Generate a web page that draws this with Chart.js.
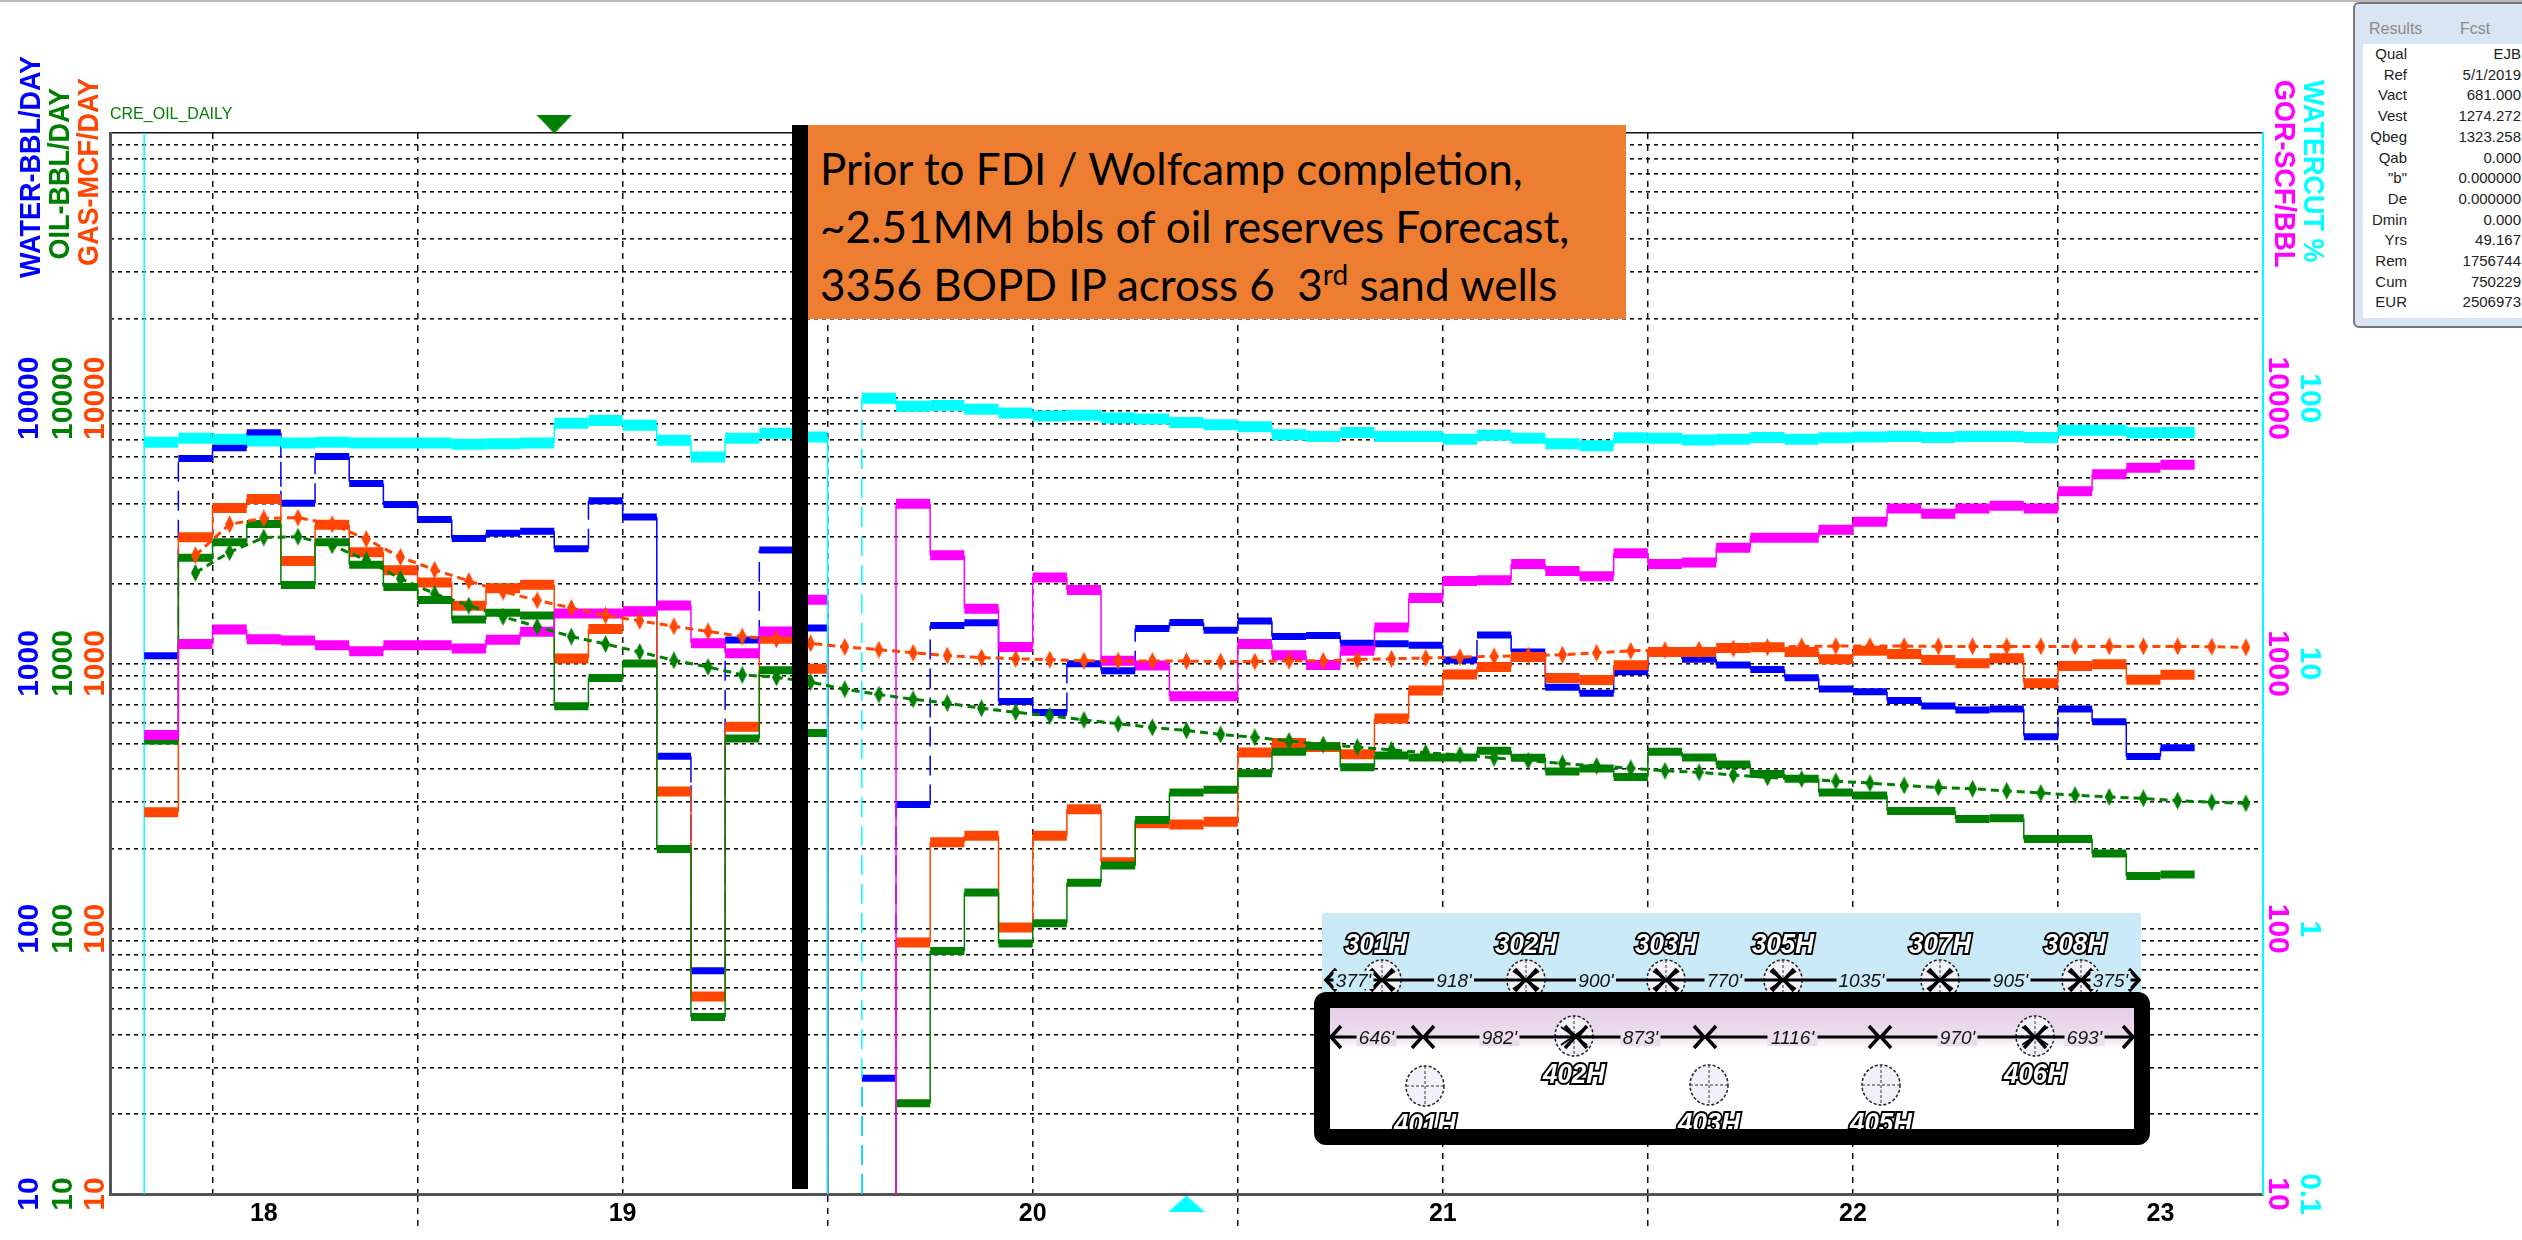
<!DOCTYPE html>
<html>
<head>
<meta charset="utf-8">
<title>CRE_OIL_DAILY</title>
<script src="https://cdn.jsdelivr.net/npm/chart.js@4/dist/chart.umd.js"></script>
<style>
html, body { margin: 0; padding: 0; background: #fff; }
body { width: 2522px; height: 1240px; overflow: hidden; position: relative; font-family: "Liberation Sans", Arial, sans-serif; }
canvas { display: block; position: absolute; left: 0; top: 0; }
.abs { position: absolute; }
.topline { left: 0; top: 0; width: 2522px; height: 2px; background: #bbb; }
.ytitle { font-weight: bold; font-size: 27px; line-height: 24px; white-space: nowrap; writing-mode: vertical-rl; }
.left { transform: rotate(180deg) scaleX(1.12); }
.right { transform: scaleX(1.12); }
.bar { left: 792px; top: 125px; width: 16px; height: 1064px; background: #000; }
.note { left: 808px; top: 125px; width: 818px; height: 194px; background: #ed7d31; color: #000; font-family: Lato, sans-serif; font-size: 44px; line-height: 58px; }
.note div { position: absolute; left: 12px; white-space: nowrap; }
.note sup { font-size: 28px; line-height: 0; }
.cre { left: 110px; top: 105px; color: #008000; font-size: 16px; }
.panel { left: 2353px; top: 2px; width: 175px; height: 326px; background: #d9e5f2; border: 2px solid #777; border-radius: 6px; box-sizing: border-box; }
.panel .head { position: absolute; top: 16px; color: #8a8a8a; font-size: 16px; }
.panel .inner { position: absolute; left: 8px; top: 40px; width: 170px; height: 274px; background: #fff; }
.row { position: absolute; font-size: 15px; color: #222; white-space: nowrap; }
svg { position: absolute; left: 0; top: 0; }
</style>
</head>
<body>
<canvas id="chart" width="2522" height="1240"></canvas>
<div class="abs topline"></div>
<div class="abs ytitle left" style="left:18px;top:56px;color:#0000ff">WATER-BBL/DAY</div>
<div class="abs ytitle left" style="left:47px;top:88px;color:#008000">OIL-BBL/DAY</div>
<div class="abs ytitle left" style="left:76px;top:78px;color:#ff4500">GAS-MCF/DAY</div>
<div class="abs ytitle right" style="left:2273px;top:80px;color:#ff00ff">GOR-SCF/BBL</div>
<div class="abs ytitle right" style="left:2302px;top:80px;color:#00ffff">WATERCUT %</div>
<div class="abs cre">CRE_OIL_DAILY</div>
<div class="abs bar"></div>
<div class="abs note">
  <div style="top:14px">Prior to FDI / Wolfcamp completion,</div>
  <div style="top:72px">~2.51MM bbls of oil reserves Forecast,</div>
  <div style="top:130px">3356 BOPD IP across 6&nbsp; 3<sup>rd</sup> sand wells</div>
</div>
<div class="abs panel" id="panel">
  <div class="head" style="left:14px">Results</div>
  <div class="head" style="left:105px">Fcst</div>
  <div class="inner"></div>
</div>
<svg id="wells" width="2522" height="1240"></svg>

<script>
// months are counted from Jan 2018, so month 12 = Jan 2019
const firstMonth = 4;
const forecastFirstMonth = 5.5;

const water = [1070, 5930, 6500, 7410, 4020, 6030, 4770, 3980, 3490, 2960, 3100, 3150, 2710, 4110, 3570, 447, 69.5, 1225, 2680, 1360,
  null, 27.3, 294, 1391, 1425, 719, 653, 997, 940, 1354, 1429, 1336, 1445, 1264, 1276, 1192, 1188, 1172, 1031, 1281,
  1105, 813, 773, 931, 1112, 1038, 986, 950, 883, 802, 783, 726, 692, 668, 673, 529, 673, 603, 446, 481];
const oil = [513, 2506, 2865, 3357, 1977, 2865, 2355, 1941, 1734, 1465, 1553, 1517, 690, 881, 1000, 200, 46.5, 521, 944, 547,
  null, null, 22, 82.4, 137, 88, 105, 149, 173, 257, 326, 334, 386, 465, 488, 406, 450, 442, 442, 469,
  441, 392, 402, 373, 465, 442, 416, 383, 368, 326, 318, 278, 278, 259, 261, 218, 218, 192, 158, 160];
const gas = [275, 2989, 3860, 4167, 2432, 3336, 2624, 2246, 2018, 1651, 1923, 1982, 1045, 1349, 1570, 329, 55.5, 577, 1240, 955,
  null, null, 88.7, 212, 224, 101, 224, 282, 178, 250, 247, 253, 462, 502, 484, 455, 620, 791, 908, 970,
  1057, 881, 866, 984, 1105, 1105, 1144, 1151, 1105, 1038, 1117, 1086, 1031, 1003, 1046, 842, 979, 993, 868, 906];
const gor = [538, 1184, 1344, 1233, 1221, 1172, 1113, 1172, 1172, 1140, 1230, 1318, 1542, 1542, 1574, 1653, 1191, 1094, 1321, 1740,
  null, null, 4000, 2559, 1608, 1155, 2109, 1891, 1024, 983, 752, 752, 1184, 1075, 986, 1116, 1368, 1766, 2047, 2061,
  2372, 2230, 2132, 2605, 2372, 2404, 2730, 2977, 2977, 3192, 3420, 3840, 3672, 3840, 3935, 3840, 4457, 5165, 5471, 5610];
const watercut = [68.2, 70.6, 70.1, 69, 67.8, 68.2, 67.8, 67.8, 67.8, 67.1, 67.3, 67.8, 80.5, 82.4, 79.1, 69.5, 60.1, 70.6, 73.8, 71.4,
  null, 100, 93.3, 94, 90.8, 88, 85.7, 86.3, 84.2, 83.6, 81, 79.4, 78, 72.8, 71.8, 74.3, 71.8, 71.8, 70.1, 72.6,
  70.6, 67.3, 66.2, 70.9, 70.6, 69.6, 70.1, 71.1, 70.1, 70.9, 71.4, 71.8, 71.1, 71.8, 71.8, 71.1, 75.7, 75.7, 74.1, 74.3];

const gasForecast = [2559, 3351, 3524, 3548, 3351, 2944, 2518, 2256, 2047, 1866, 1730, 1620, 1517, 1449, 1381, 1321, 1264, 1234, 1191,
  1155, 1128, 1097, 1071, 1053, 1042, 1035, 1024, 1024, 1021, 1021, 1017, 1017, 1024, 1024, 1035, 1042, 1049, 1057, 1064, 1071, 1079, 1097, 1116, 1124,
  1128, 1139, 1151, 1160, 1163, 1163, 1163, 1160, 1160, 1160, 1160, 1160, 1160, 1160, 1160, 1157, 1151];
const oilForecast = [2198, 2630, 2985, 3006, 2788, 2455, 2089, 1833, 1653, 1500, 1377, 1264, 1184, 1105, 1028, 970, 906, 887, 851,
  800, 764, 733, 709, 678, 655, 635, 613, 593, 574, 559, 540, 527, 511, 495, 484, 472, 461, 452, 441, 430, 420, 411, 403, 394,
  389, 380, 372, 367, 360, 354, 347, 341, 337, 331, 325, 319, 314, 310, 304, 300, 297];

const gridTicks = [10, 20, 30, 40, 50, 60, 70, 80, 90, 100, 200, 300, 400, 500, 600, 700, 800, 900, 1000,
  2000, 3000, 4000, 5000, 6000, 7000, 8000, 9000, 10000, 20000, 30000, 40000, 50000, 60000, 70000, 80000, 90000, 100000];
const rateLabels = [10, 100, 1000, 10000];
const gorLabels = [10, 100, 1000, 10000];
const watercutLabels = [0.1, 1, 10, 100];

const monthTicks = [6, 7.5, 12, 18, 24, 30, 36, 42, 48, 54, 60, 63, 66];
const yearBoundaries = [12, 24, 36, 48, 60];
const labelMonths = [7.5, 18, 30, 42, 54, 63];
const yearLabels = ["18", "19", "20", "21", "22", "23"];
const noGridMonths = [7.5, 63];

const wellStartMonth = [4];
const refMonth = [16];
const cursorMonth = [34.5];

const resultNames = ["Qual", "Ref", "Vact", "Vest", "Qbeg", "Qab", "\"b\"", "De", "Dmin", "Yrs", "Rem", "Cum", "EUR"];
const resultValues = ["EJB", "5/1/2019", "681.000", "1274.272", "1323.258", "0.000", "0.000000", "0.000000", "0.000", "49.167", "1756744", "750229", "2506973"];

const BLUE = "#0000ff", GREEN = "#008000", ORANGE = "#ff4500", MAGENTA = "#ff00ff", CYAN = "#00ffff";

function stepPoints(values, floor) {
    let pts = [];
    let prev = null;
    values.forEach((v, i) => {
        let m = firstMonth + i;
        if (v === null) {
            if (prev !== null) pts.push({ x: m, y: floor }, { x: m, y: null });
        } else {
            if (prev === null && i > 0) pts.push({ x: m, y: floor });
            pts.push({ x: m, y: v }, { x: m + 1, y: v });
        }
        prev = v;
    });
    return pts;
}

function stepSet(label, values, color, axis, floor, thick, order, dashedDrops) {
    return {
        label: label,
        data: stepPoints(values, floor),
        yAxisID: axis,
        borderColor: color,
        borderWidth: 1.5,
        pointRadius: 0,
        order: order,
        segment: {
            borderWidth: c => c.p0.parsed.y === c.p1.parsed.y ? thick : 1.5,
            borderDash: c => (dashedDrops && c.p0.parsed.y !== c.p1.parsed.y) ? [20, 9] : undefined
        }
    };
}

function diamond(color) {
    let c = document.createElement("canvas");
    c.width = 9; c.height = 18;
    let g = c.getContext("2d");
    g.fillStyle = color;
    g.beginPath(); g.moveTo(4.5, 0); g.lineTo(9, 9); g.lineTo(4.5, 18); g.lineTo(0, 9); g.closePath(); g.fill();
    return c;
}

function triangle(color, up, w, h) {
    let c = document.createElement("canvas");
    c.width = w; c.height = h;
    let g = c.getContext("2d");
    g.fillStyle = color;
    g.beginPath();
    if (up) { g.moveTo(0, h); g.lineTo(w, h); g.lineTo(w / 2, 0); }
    else { g.moveTo(0, 0); g.lineTo(w, 0); g.lineTo(w / 2, h); }
    g.closePath(); g.fill();
    return c;
}

function forecastSet(label, values, color, axis) {
    return {
        label: label,
        data: values.map((v, i) => ({ x: forecastFirstMonth + i, y: v })),
        yAxisID: axis,
        borderColor: color,
        backgroundColor: color,
        borderWidth: 3,
        borderDash: [8, 5],
        pointStyle: diamond(color),
        pointRadius: 8,
        order: 1
    };
}

// mirror stops the labels being clipped to the narrow axis box, padding then sets where they sit
function sideAxis(position, labels, color, width, pad, grid) {
    return {
        type: "logarithmic",
        position: position,
        min: labels === watercutLabels ? 0.1 : 10,
        max: labels === watercutLabels ? 1000 : 100000,
        afterBuildTicks: a => { a.ticks = (grid ? gridTicks : labels).map(v => ({ value: v })); },
        afterFit: s => { s.width = width; s.paddingTop = 0; s.paddingBottom = 0; },
        ticks: {
            autoSkip: false,
            mirror: true,
            color: color,
            font: { family: "'Liberation Sans Narrow', 'Liberation Sans'", size: 30, weight: "bold" },
            padding: pad,
            crossAlign: "center",
            minRotation: position === "left" ? 90 : -90,
            maxRotation: position === "left" ? 90 : -90,
            callback: v => labels.includes(v) ? String(v) : ""
        },
        grid: grid ? {
            drawTicks: false,
            color: "#111",
            lineWidth: 1.6
        } : { drawTicks: false, drawOnChartArea: false },
        border: grid ? { display: false, dash: c => (c.tick && c.tick.value === 100000) ? [] : [4, 4] } : { display: false }
    };
}

// left axes stack from the outside in, so water has to come first
const scales = {
    x: {
        type: "linear",
        min: 3,
        max: 66,
        afterBuildTicks: a => { a.ticks = monthTicks.map(v => ({ value: v })); },
        afterFit: s => { s.height = 46; s.paddingLeft = 0; s.paddingRight = 0; },
        ticks: {
            autoSkip: false,
            maxRotation: 0,
            color: "#000",
            padding: -31,
            font: { family: "Liberation Sans", size: 25, weight: "bold" },
            callback: v => labelMonths.includes(v) ? yearLabels[labelMonths.indexOf(v)] : ""
        },
        grid: {
            color: c => noGridMonths.includes(c.tick.value) ? "rgba(0,0,0,0)" : "#111",
            tickColor: c => yearBoundaries.includes(c.tick.value) ? "#111" : "rgba(0,0,0,0)",
            tickLength: 36,
            tickBorderDash: [6, 6],
            lineWidth: 1.5
        },
        border: { color: "#555", width: 3, dash: [6, 6] }
    },
    gas: sideAxis("left", rateLabels, ORANGE, 34, -56, false),
    oil: sideAxis("left", rateLabels, GREEN, 28, -54, false),
    water: sideAxis("left", rateLabels, BLUE, 34, -60, true),
    gor: sideAxis("right", gorLabels, MAGENTA, 37, 55.5, false),
    wc: sideAxis("right", watercutLabels, CYAN, 30, 34.5, false)
};
scales.gas.border = { display: true, color: "#555", width: 3 };
scales.gor.border = { display: true, color: CYAN, width: 2 };

const datasets = [
    forecastSet("Gas forecast", gasForecast, ORANGE, "gas"),
    forecastSet("Oil forecast", oilForecast, GREEN, "oil"),
    stepSet("Watercut", watercut, CYAN, "wc", 0.1, 11, 2, true),
    stepSet("GOR", gor, MAGENTA, "gor", 10, 10, 3, false),
    stepSet("Oil", oil, GREEN, "oil", 10, 8, 4, false),
    stepSet("Gas", gas, ORANGE, "gas", 10, 10, 5, false),
    stepSet("Water", water, BLUE, "water", 10, 7, 6, true),
    {
        label: "Start",
        data: [{ x: wellStartMonth[0], y: 10 }, { x: wellStartMonth[0], y: 100000 }],
        yAxisID: "water", borderColor: CYAN, borderWidth: 1.5, pointRadius: 0, order: 7
    },
    {
        label: "Ref",
        data: [{ x: refMonth[0], y: 108000 }],
        yAxisID: "water", showLine: false, clip: false, order: 0,
        pointStyle: triangle(GREEN, false, 36, 19), pointRadius: 18
    },
    {
        label: "Cursor",
        data: [{ x: cursorMonth[0], y: 9.2 }],
        yAxisID: "water", showLine: false, clip: false, order: 0,
        pointStyle: triangle(CYAN, true, 36, 16), pointRadius: 18
    }
];

new Chart(document.getElementById("chart"), {
    type: "line",
    data: { datasets: datasets },
    options: {
        responsive: false,
        animation: false,
        events: [],
        layout: { padding: { left: 14, right: 192, top: 133, bottom: 0 } },
        plugins: { legend: { display: false }, tooltip: { enabled: false } },
        scales: scales
    }
});

// results panel
let panel = document.getElementById("panel");
resultNames.forEach((name, i) => {
    let top = 41 + i * 20.7;
    panel.insertAdjacentHTML("beforeend",
        `<div class="row" style="right:119px;top:${top}px">${name}</div>` +
        `<div class="row" style="right:5px;top:${top}px">${resultValues[i]}</div>`);
});

// well spacing sketch
function chevrons(x1, x2, y) {
    return `<line x1="${x1 + 2}" y1="${y}" x2="${x2 - 2}" y2="${y}" stroke="#000" stroke-width="3"/>` +
        `<polyline points="${x1 + 11},${y - 11} ${x1 + 1},${y} ${x1 + 11},${y + 11}" fill="none" stroke="#000" stroke-width="3.5"/>` +
        `<polyline points="${x2 - 11},${y - 11} ${x2 - 1},${y} ${x2 - 11},${y + 11}" fill="none" stroke="#000" stroke-width="3.5"/>`;
}
function spacing(stops, labels, y) {
    let s = "";
    labels.forEach((t, i) => {
        let mid = (stops[i] + stops[i + 1]) / 2;
        s += chevrons(stops[i], stops[i + 1], y);
        s += `<rect x="${mid - t.length * 5}" y="${y - 9}" width="${t.length * 10}" height="18" fill="${y < 1000 ? "#c9eaf6" : "#ecdcec"}"/>`;
        s += `<text x="${mid}" y="${y + 7}" text-anchor="middle" font-size="19" font-style="italic" fill="#111">${t}</text>`;
    });
    return s;
}
function well(x, y, hit) {
    return `<ellipse cx="${x}" cy="${y}" rx="19" ry="20" fill="#f2f0f8" stroke="#222" stroke-dasharray="3 2" stroke-width="1.5"/>` +
        `<line x1="${x}" y1="${y - 20}" x2="${x}" y2="${y + 20}" stroke="#333" stroke-dasharray="3 2"/>` +
        `<line x1="${x - 19}" y1="${y}" x2="${x + 19}" y2="${y}" stroke="#333" stroke-dasharray="3 2"/>` +
        (hit ? `<line x1="${x - 13}" y1="${y - 9}" x2="${x + 13}" y2="${y + 9}" stroke="#000" stroke-width="2"/><line x1="${x - 13}" y1="${y + 9}" x2="${x + 13}" y2="${y - 9}" stroke="#000" stroke-width="2"/>` : "");
}
function wellName(t, x, y) {
    return `<text x="${x}" y="${y}" text-anchor="middle" font-size="28" font-weight="bold" font-style="italic" fill="#fff" stroke="#000" stroke-width="4" paint-order="stroke" textLength="62" lengthAdjust="spacingAndGlyphs">${t}</text>`;
}

const row3 = [["301H", 1376, 1382], ["302H", 1526, 1526], ["303H", 1666, 1666], ["305H", 1783, 1783], ["307H", 1940, 1940], ["308H", 2075, 2081]];
const row3Stops = [1325, 1382, 1526, 1666, 1783, 1940, 2081, 2140];
const row3Gaps = ["377'", "918'", "900'", "770'", "1035'", "905'", "375'"];
const row4Stops = [1330, 1423, 1576, 1705, 1880, 2035, 2134];
const row4Gaps = ["646'", "982'", "873'", "1116'", "970'", "693'"];
const row4Wells = [["402H", 1574, 1036, 1073, true], ["406H", 2035, 1036, 1073, true], ["401H", 1425, 1086, 1123, false], ["403H", 1709, 1085, 1122, false], ["405H", 1881, 1085, 1122, false]];

let svg = `<defs><linearGradient id="pink" x1="0" y1="0" x2="0" y2="1"><stop offset="0" stop-color="#e6d0e8"/><stop offset="0.7" stop-color="#ecdcec"/><stop offset="1" stop-color="#ffffff"/></linearGradient></defs>`;
svg += `<rect x="1322" y="913" width="819" height="80" fill="#c9eaf6"/>`;
svg += `<rect x="1330" y="1008" width="804" height="121" fill="#fff"/>`;
svg += `<rect x="1330" y="1008" width="804" height="40" fill="url(#pink)"/>`;
row3.forEach(r => { svg += well(r[2], 980, true); });
svg += spacing(row3Stops, row3Gaps, 980);
row3.forEach(r => { svg += wellName(r[0], r[1], 953); });
row4Wells.forEach(r => { svg += well(r[1], r[2], r[4]); });
svg += spacing(row4Stops, row4Gaps, 1037);
row4Wells.forEach(r => { svg += wellName(r[0], r[1], r[3] + 10); });
svg += `<rect x="1322" y="1000" width="820" height="137" rx="4" fill="none" stroke="#000" stroke-width="16"/>`;
document.getElementById("wells").innerHTML = svg;
</script>
</body>
</html>
